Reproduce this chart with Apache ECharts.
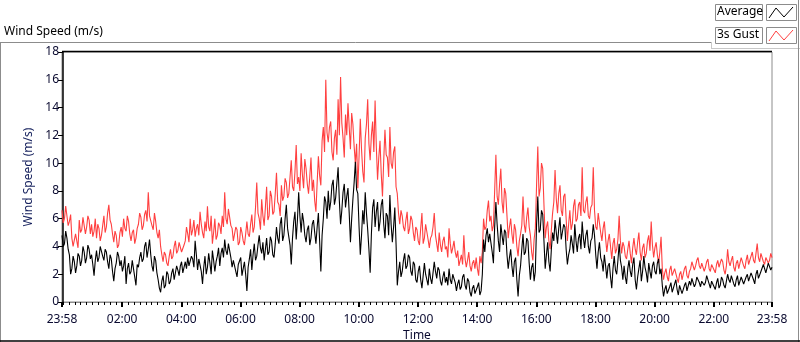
<!DOCTYPE html>
<html>
<head>
<meta charset="utf-8">
<script src="https://cdn.jsdelivr.net/npm/echarts@6/dist/echarts.min.js"></script>
<style>
html,body{margin:0;padding:0;background:#fff;}
#chart{width:800px;height:342px;}
</style>
</head>
<body>
<div id="chart"></div>
<script>
// Sample times: minutes relative to midnight, starting at 23:58 of the previous day, every 2.5 minutes
var startMin = -2;
var stepMin = 2.5;

// 3s Gust (m/s), 24 samples per hour
var gust = [
  6.6, 5.7, 6.0, 6.9, 6.8, 5.5, 5.8, 6.3, 4.6, 4.0, 4.0, 4.9, 4.8, 3.9, 5.9, 5.0, 5.2, 6.1, 6.0, 4.9, 5.4, 6.2, 5.9, 4.9,
  5.6, 4.7, 5.1, 6.0, 4.6, 5.6, 5.3, 4.4, 4.8, 5.5, 6.2, 5.0, 5.4, 6.4, 7.0, 5.9, 5.6, 4.9, 4.3, 5.1, 4.8, 3.9, 4.1, 5.0,
  5.4, 4.7, 6.0, 5.3, 5.1, 6.2, 5.8, 4.9, 4.4, 5.0, 5.2, 4.2, 4.6, 5.3, 5.6, 6.4, 6.1, 5.2, 5.5, 6.3, 6.6, 5.8, 7.9, 6.2,
  6.3, 5.5, 5.2, 6.4, 5.8, 5.0, 4.6, 5.2, 4.0, 3.4, 2.9, 3.6, 3.4, 2.8, 2.6, 3.3, 3.8, 3.1, 3.3, 4.0, 4.4, 3.5, 3.7, 4.3,
  4.2, 3.6, 3.5, 4.1, 4.4, 5.4, 4.9, 4.3, 6.0, 4.8, 5.2, 5.9, 4.7, 5.3, 5.6, 4.8, 6.5, 5.6, 5.0, 4.6, 5.8, 5.1, 6.9, 5.4,
  5.1, 6.2, 4.2, 5.0, 6.0, 4.5, 4.8, 5.7, 5.5, 4.9, 6.2, 5.4, 7.9, 6.0, 5.6, 6.7, 6.6, 5.5, 5.3, 4.4, 4.5, 5.4, 5.2, 4.1,
  4.3, 5.4, 5.0, 4.4, 4.1, 4.9, 5.8, 4.9, 4.7, 5.6, 6.3, 5.0, 5.4, 6.8, 8.6, 6.4, 6.0, 5.2, 7.4, 6.2, 5.5, 6.8, 8.3, 5.9,
  6.2, 8.0, 7.6, 6.3, 6.5, 7.8, 9.3, 7.2, 7.0, 6.2, 8.4, 7.3, 7.6, 8.9, 8.6, 7.5, 7.8, 9.0, 10.2, 8.3, 8.0, 9.4, 11.3, 8.5,
  9.0, 8.0, 10.7, 9.2, 8.2, 10.3, 9.6, 8.5, 7.8, 9.0, 10.4, 8.0, 8.8, 7.3, 6.5, 8.6, 10.5, 9.1, 8.4, 11.6, 12.6, 10.8, 16.0, 12.2,
  11.5, 12.6, 13.0, 10.8, 10.2, 11.8, 12.4, 10.6, 14.6, 12.0, 16.2, 12.9, 11.8, 10.4, 13.5, 12.0, 14.3, 12.6, 11.0, 13.6, 12.8, 11.2, 10.0, 11.4,
  8.2, 10.5, 13.2, 11.0, 9.4, 8.6, 11.8, 12.8, 14.6, 11.4, 10.2, 12.0, 13.0, 10.8, 14.5, 11.2, 8.8, 10.4, 11.6, 9.2, 7.6, 10.2, 12.4, 10.6,
  10.4, 9.0, 12.6, 10.0, 9.6, 10.8, 11.2, 8.3, 7.8, 6.4, 5.6, 6.6, 6.2, 5.4, 5.1, 5.9, 6.5, 4.9, 5.3, 6.2, 5.9, 5.0, 4.4, 5.4,
  5.2, 4.4, 4.1, 5.3, 6.4, 4.2, 4.6, 5.6, 5.5, 4.5, 3.9, 4.6, 4.8, 5.4, 6.4, 4.8, 4.2, 3.6, 5.0, 4.1, 3.6, 4.4, 4.7, 3.8,
  4.0, 3.2, 5.3, 4.2, 3.5, 3.9, 4.4, 3.6, 3.2, 3.7, 2.6, 3.0, 3.4, 2.7, 4.8, 3.1, 2.5, 3.0, 3.6, 2.6, 2.2, 2.8, 3.0, 2.4,
  3.2, 2.4, 1.9, 3.3, 2.8, 3.6, 6.0, 5.2, 5.4, 6.6, 7.3, 5.8, 6.2, 5.1, 5.5, 8.0, 10.6, 7.6, 7.0, 8.5, 9.6, 7.2, 6.4, 8.2,
  7.8, 6.2, 4.6, 5.4, 6.0, 4.9, 4.2, 5.6, 5.2, 4.0, 3.3, 4.4, 4.9, 5.5, 7.6, 5.6, 5.0, 6.1, 6.8, 5.4, 4.8, 3.6, 3.0, 4.5,
  5.3, 8.4, 11.2, 7.6, 8.2, 10.0, 9.6, 7.0, 4.6, 5.4, 5.8, 4.4, 3.8, 5.2, 6.4, 7.2, 9.5, 7.4, 6.4, 7.8, 8.4, 6.6, 6.2, 7.6,
  7.8, 6.0, 4.4, 5.6, 6.6, 5.2, 5.6, 6.9, 7.4, 5.8, 6.0, 7.0, 7.2, 6.2, 9.7, 6.6, 6.4, 7.2, 7.6, 6.2, 6.0, 6.8, 7.0, 9.7,
  6.6, 5.4, 5.2, 6.4, 6.3, 5.0, 4.4, 5.3, 5.8, 4.6, 3.6, 4.4, 4.9, 4.0, 3.1, 4.2, 4.6, 3.5, 3.8, 4.5, 6.2, 4.4, 3.5, 4.3,
  4.0, 3.3, 3.1, 3.8, 4.4, 3.5, 2.8, 3.9, 4.6, 3.8, 3.4, 4.3, 5.0, 3.6, 3.0, 3.9, 4.2, 3.2, 3.5, 4.4, 4.8, 3.7, 5.8, 4.1,
  3.2, 3.9, 4.3, 3.4, 2.8, 3.6, 4.7, 2.4, 1.6, 2.1, 2.4, 1.8, 1.5, 2.3, 2.6, 1.9, 1.8, 2.4, 2.5, 1.7, 1.4, 2.0, 2.2, 1.6,
  2.0, 2.4, 2.6, 1.9, 1.7, 2.2, 2.4, 2.9, 3.0, 2.3, 2.6, 3.0, 3.2, 2.6, 2.4, 2.8, 2.9, 2.2, 2.5, 2.9, 3.1, 2.4, 2.2, 2.7,
  2.8, 2.3, 2.1, 2.7, 3.0, 2.5, 2.4, 3.1, 2.9, 2.3, 2.0, 2.6, 3.8, 2.9, 2.6, 3.0, 3.3, 2.5, 2.2, 2.8, 3.0, 2.4, 2.5, 3.2,
  3.1, 2.6, 2.4, 3.0, 3.4, 2.7, 2.6, 3.3, 3.6, 3.0, 2.8, 3.5, 4.2, 3.2, 2.9, 3.5, 3.4, 2.9, 2.7, 3.2, 3.3, 2.8, 3.0, 3.5, 3.2
];

// Average (m/s), 24 samples per hour
var average = [
  4.8, 4.0, 4.2, 5.1, 4.6, 3.8, 3.4, 2.0, 2.4, 3.3, 2.9, 2.1, 2.6, 3.5, 3.3, 2.6, 3.0, 4.0, 3.6, 2.8, 3.2, 4.1, 3.8, 3.1,
  3.4, 2.7, 1.9, 3.0, 3.7, 2.9, 3.2, 4.0, 3.9, 3.3, 3.0, 3.8, 3.6, 2.9, 2.4, 3.4, 3.1, 2.2, 1.5, 2.4, 2.8, 3.6, 3.3, 2.6,
  3.0, 2.2, 2.6, 3.3, 1.3, 2.4, 2.8, 2.0, 2.2, 3.0, 2.9, 1.8, 1.2, 2.7, 2.5, 3.2, 3.6, 2.9, 3.1, 4.0, 4.3, 3.2, 3.8, 4.5,
  3.4, 2.6, 2.2, 3.3, 3.0, 2.1, 1.6, 1.0, 0.7, 1.5, 1.9, 1.0, 1.2, 2.2, 2.0, 1.3, 1.5, 2.1, 2.4, 1.6, 1.7, 2.6, 2.3, 1.9,
  2.6, 2.9, 2.1, 2.5, 2.9, 2.4, 3.2, 2.6, 2.7, 3.3, 3.1, 2.5, 4.4, 3.4, 2.3, 3.1, 3.0, 2.2, 1.3, 2.5, 3.3, 2.0, 2.5, 3.5,
  2.8, 2.0, 3.7, 3.0, 2.2, 2.9, 3.3, 3.9, 2.6, 3.5, 3.9, 3.2, 4.5, 3.7, 3.4, 4.2, 4.1, 3.2, 2.5, 3.0, 3.0, 2.2, 1.8, 2.7,
  2.6, 3.2, 1.9, 2.4, 2.9, 2.0, 0.8, 2.5, 3.1, 3.8, 2.3, 3.4, 4.2, 3.0, 3.3, 4.1, 4.8, 3.9, 3.5, 4.3, 3.0, 3.8, 4.6, 3.4,
  3.6, 4.7, 4.4, 3.4, 3.2, 4.2, 5.4, 4.6, 4.2, 5.6, 6.1, 4.4, 4.8, 6.0, 7.0, 5.3, 5.2, 4.1, 2.7, 4.6, 5.8, 6.5, 4.5, 5.9,
  7.9, 6.2, 5.0, 6.4, 5.8, 4.8, 4.3, 5.2, 5.5, 4.1, 4.6, 5.6, 5.9, 5.0, 4.2, 5.4, 6.4, 4.4, 2.2, 4.8, 6.0, 7.6, 7.2, 6.0,
  8.0, 6.6, 7.2, 8.4, 8.8, 7.0, 7.5, 8.6, 9.7, 7.3, 5.6, 6.6, 7.9, 8.5, 6.8, 7.6, 8.2, 6.4, 4.3, 6.0, 7.4, 8.6, 10.1, 8.1,
  7.8, 5.4, 3.4, 4.8, 6.6, 5.6, 7.9, 6.4, 5.2, 3.8, 2.1, 4.9, 6.8, 7.4, 5.4, 6.5, 7.2, 5.1, 5.8, 7.0, 7.4, 5.6, 4.6, 6.4,
  6.2, 4.8, 7.7, 5.6, 4.3, 5.4, 6.8, 4.2, 1.2, 2.2, 2.9, 1.8, 2.2, 3.0, 3.5, 2.4, 2.6, 3.4, 3.2, 2.2, 1.9, 2.9, 2.7, 1.6,
  1.4, 2.2, 2.6, 1.6, 1.0, 1.9, 2.8, 2.0, 1.9, 1.2, 2.4, 1.7, 1.3, 2.1, 2.9, 2.2, 1.7, 2.5, 2.3, 1.5, 1.2, 1.8, 2.2, 1.4,
  1.8, 1.2, 2.4, 1.6, 1.3, 2.0, 1.9, 1.4, 0.8, 1.3, 1.6, 0.9, 1.1, 1.8, 2.0, 1.2, 0.9, 1.7, 1.5, 0.7, 0.4, 1.0, 1.2, 0.6,
  0.6, 1.1, 1.4, 0.5, 0.8, 2.0, 4.5, 3.6, 4.8, 5.3, 4.3, 4.9, 5.0, 3.6, 2.8, 5.4, 7.2, 5.6, 4.4, 3.6, 5.6, 4.8, 4.1, 5.2,
  5.0, 3.4, 2.4, 3.2, 3.8, 2.6, 1.8, 2.9, 3.2, 1.6, 0.4, 1.9, 2.6, 3.8, 4.9, 3.4, 3.6, 4.6, 4.4, 2.8, 1.6, 2.5, 2.8, 1.5,
  2.2, 5.6, 7.6, 5.0, 5.2, 6.6, 6.3, 4.4, 2.4, 3.4, 4.3, 2.9, 2.2, 3.8, 5.0, 4.4, 5.9, 5.0, 4.2, 5.3, 6.1, 4.5, 4.6, 5.6,
  5.4, 3.8, 2.7, 3.4, 3.8, 4.8, 4.2, 3.5, 5.6, 4.4, 3.6, 4.6, 4.9, 3.8, 5.8, 4.6, 3.9, 4.8, 5.2, 4.0, 3.5, 4.4, 4.6, 5.6,
  4.8, 3.4, 2.4, 3.6, 4.3, 3.2, 2.9, 2.2, 3.4, 2.6, 1.7, 2.6, 2.8, 1.8, 1.0, 2.4, 3.3, 2.3, 2.0, 3.0, 4.2, 3.0, 2.5, 1.6,
  2.6, 1.8, 1.3, 2.4, 3.0, 2.2, 1.8, 2.7, 3.2, 1.6, 0.9, 1.8, 2.4, 3.0, 1.5, 2.2, 3.3, 2.5, 2.1, 1.4, 2.8, 2.2, 1.7, 2.6,
  2.9, 2.2, 2.0, 2.8, 3.1, 2.0, 2.4, 1.2, 0.4, 0.9, 1.2, 0.6, 0.6, 1.1, 1.4, 0.7, 0.8, 1.3, 1.6, 0.9, 0.5, 1.2, 1.1, 0.6,
  0.7, 1.2, 1.4, 0.8, 0.9, 1.5, 1.2, 1.7, 1.8, 1.1, 1.3, 1.8, 1.9, 1.4, 1.1, 1.5, 1.6, 1.2, 1.4, 1.9, 1.8, 1.3, 1.0, 1.5,
  1.5, 1.1, 0.9, 1.4, 1.7, 1.0, 1.2, 1.8, 1.6, 1.2, 1.0, 1.5, 2.0, 1.6, 1.4, 1.9, 1.8, 1.3, 1.1, 1.6, 1.9, 1.2, 1.3, 1.8,
  1.7, 1.3, 1.2, 1.8, 2.0, 1.5, 1.4, 2.1, 2.2, 1.6, 1.3, 2.0, 2.3, 1.7, 1.6, 2.2, 2.1, 2.7, 2.6, 2.1, 2.0, 2.8, 2.7, 2.3, 2.5
];

// Axis ticks (minutes)
var majorTicks = [-2, 120, 240, 360, 480, 600, 720, 840, 960, 1080, 1200, 1320, 1438];
var minorTicks = [];
for (var m = 0; m <= 1428; m += 12) { minorTicks.push(m); }

function toPairs(vals) {
  return vals.map(function (v, i) { return [startMin + i * stepMin, v]; });
}
function fmt(v) {
  var mm = ((Math.round(v) % 1440) + 1440) % 1440;
  var h = Math.floor(mm / 60), mi = mm % 60;
  return (h < 10 ? '0' : '') + h + ':' + (mi < 10 ? '0' : '') + mi;
}

var FONT = 'Noto Sans';
var chart = echarts.init(document.getElementById('chart'), null, {renderer: 'canvas'});
chart.setOption({
  animation: false,
  backgroundColor: '#fff',
  textStyle: {fontFamily: FONT},
  grid: {left: 62, right: 28, top: 52, bottom: 40, show: true, borderColor: '#8c8c8c', borderWidth: 1,
         backgroundColor: '#fff', outerBoundsMode: 'none', containLabel: false},
  xAxis: [{
    type: 'value', min: -2, max: 1438,
    name: 'Time', nameLocation: 'middle', nameGap: 28, nameMoveOverlap: false,
    nameTextStyle: {fontFamily: FONT, fontSize: 12, color: '#0a0a30', verticalAlign: 'top'},
    axisLine: {show: true, lineStyle: {color: '#8c8c8c', width: 1}},
    axisTick: {show: true, customValues: majorTicks, length: 5, lineStyle: {color: '#000', width: 2}},
    axisLabel: {show: true, customValues: majorTicks, formatter: fmt, margin: 12, fontFamily: FONT, fontSize: 12, color: '#0a0a30'},
    splitLine: {show: false}
  }, {
    type: 'value', min: -2, max: 1438, position: 'bottom',
    axisLine: {show: false},
    axisTick: {show: true, customValues: minorTicks, length: 3, lineStyle: {color: '#000', width: 1}},
    axisLabel: {show: false},
    splitLine: {show: false}
  }],
  yAxis: {
    type: 'value', min: 0, max: 18, interval: 2,
    name: 'Wind Speed (m/s)', nameLocation: 'middle', nameGap: 26, nameRotate: 90,
    nameTextStyle: {fontFamily: FONT, fontSize: 12, color: '#1a2560'},
    axisLine: {show: true, lineStyle: {color: '#000', width: 1.5}},
    axisTick: {show: true, length: 5, lineStyle: {color: '#000', width: 1}},
    axisLabel: {margin: 3, fontFamily: FONT, fontSize: 12, color: '#0a0a30'},
    splitLine: {show: false}
  },
  series: [{
    name: '3s Gust', type: 'line', xAxisIndex: 0, data: toPairs(gust),
    showSymbol: false, symbol: 'none', lineStyle: {color: '#ff4040', width: 1.1}, z: 2
  }, {
    name: 'Average', type: 'line', xAxisIndex: 0, data: toPairs(average),
    showSymbol: false, symbol: 'none', lineStyle: {color: '#000', width: 1.1}, z: 3
  }],
  graphic: [
    {type: 'text', left: 4, top: 26, style: {text: 'Wind Speed (m/s)', font: '12px "Noto Sans"', fill: '#000'}},
    {type: 'line', shape: {x1: 0, y1: 42.5, x2: 711, y2: 42.5}, style: {stroke: '#8c8c8c', lineWidth: 1}},
    {type: 'line', shape: {x1: 711.5, y1: 42, x2: 711.5, y2: 48}, style: {stroke: '#c8c8c8', lineWidth: 1}},
    {type: 'line', shape: {x1: 711, y1: 48.5, x2: 800, y2: 48.5}, style: {stroke: '#c8c8c8', lineWidth: 1}},
    {type: 'line', shape: {x1: 798.5, y1: 0, x2: 798.5, y2: 342}, style: {stroke: '#8c8c8c', lineWidth: 1}},
    {type: 'line', shape: {x1: 0.5, y1: 42, x2: 0.5, y2: 342}, style: {stroke: '#8c8c8c', lineWidth: 1}},
    {type: 'line', shape: {x1: 0, y1: 341, x2: 800, y2: 341}, style: {stroke: '#000', lineWidth: 1.5}},
    {type: 'line', shape: {x1: 62, y1: 51.5, x2: 772, y2: 51.5}, style: {stroke: '#000', lineWidth: 1.5}, z: 10},
    // Legend: Average
    {type: 'rect', shape: {x: 715.5, y: 4.5, width: 47, height: 16}, style: {fill: '#fff', stroke: '#8c8c8c', lineWidth: 1}},
    {type: 'text', left: 717, top: 5.5, style: {text: 'Average', font: '12px "Noto Sans"', fill: '#000'}},
    {type: 'rect', shape: {x: 766.5, y: 4.5, width: 30, height: 16}, style: {fill: '#fff', stroke: '#8c8c8c', lineWidth: 1}},
    {type: 'polyline', shape: {points: [[769, 18], [776, 8], [784, 17], [793, 7]]}, style: {stroke: '#000', lineWidth: 1, fill: null}},
    // Legend: 3s Gust
    {type: 'rect', shape: {x: 715.5, y: 27.5, width: 47, height: 16}, style: {fill: '#fff', stroke: '#8c8c8c', lineWidth: 1}},
    {type: 'text', left: 717, top: 28.5, style: {text: '3s Gust', font: '12px "Noto Sans"', fill: '#000'}},
    {type: 'rect', shape: {x: 766.5, y: 27.5, width: 30, height: 16}, style: {fill: '#fff', stroke: '#8c8c8c', lineWidth: 1}},
    {type: 'polyline', shape: {points: [[769, 41], [776, 31], [784, 40], [793, 30]]}, style: {stroke: '#ff4040', lineWidth: 1, fill: null}}
  ]
});
</script>
</body>
</html>
